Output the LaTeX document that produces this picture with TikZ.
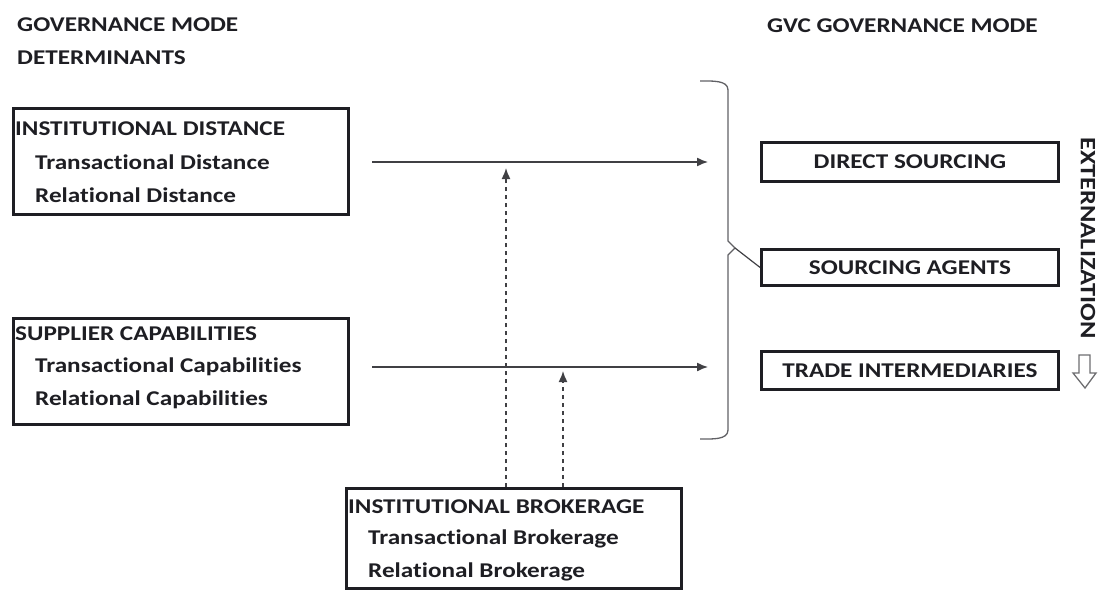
\documentclass[tikz,border=0pt]{standalone}
\usepackage{fontspec}
\setmainfont{Carlito}[FakeStretch=1.2,Ligatures={NoCommon}]
\usetikzlibrary{arrows.meta}
\definecolor{ink}{RGB}{30,30,35}
\begin{document}
\begin{tikzpicture}[x=1pt,y=-1pt,
  every node/.style={text=ink,font=\bfseries\fontsize{21}{25}\selectfont},
  txt/.style={inner sep=0pt,anchor=west},
  detbox/.style={draw=ink,line width=2.8pt,anchor=north west,inner sep=0pt},
  modebox/.style={draw=ink,line width=2.8pt,anchor=north west,inner sep=0pt,minimum width=297pt},
  flow/.style={draw=ink!85,line width=1.4pt,-{Latex[length=11pt,width=9pt]}},
  moderate/.style={draw=ink!85,line width=1.5pt,dash pattern=on 4pt off 4pt,-{Latex[length=11pt,width=9pt]}}]
\useasboundingbox (0,0) rectangle (1099,589);

% column headings
\node[txt] (h1) at (17,25) {GOVERNANCE MODE};
\node[txt] (h2) at (17,58) {DETERMINANTS};
\node[txt] (h3) at (767,26) {GVC GOVERNANCE MODE};

% determinant boxes
\node[detbox,minimum width=335pt,minimum height=106pt] (dist) at (12,107) {};
\node[txt] (distT) at (15,129) {INSTITUTIONAL DISTANCE};
\node[txt] (dist1) at (35,162) {Transactional Distance};
\node[txt] (dist2) at (35,195) {Relational Distance};

\node[detbox,minimum width=335pt,minimum height=106pt] (cap) at (12,317) {};
\node[txt] (capT) at (15,334) {SUPPLIER CAPABILITIES};
\node[txt] (cap1) at (35,367) {Transactional Capabilities};
\node[txt] (cap2) at (35,400) {Relational Capabilities};

\node[detbox,minimum width=335pt,minimum height=100pt] (brok) at (345,487) {};
\node[txt] (brokT) at (348,507) {INSTITUTIONAL BROKERAGE};
\node[txt] (brok1) at (368,539) {Transactional Brokerage};
\node[txt] (brok2) at (368,572) {Relational Brokerage};

% governance mode boxes
\node[modebox,minimum height=39pt] (ds) at (760,141) {};
\node (dsT) at (ds.center) {DIRECT SOURCING};
\node[modebox,minimum height=36pt] (sa) at (760,248) {};
\node (saT) at (sa.center) {SOURCING AGENTS};
\node[modebox,minimum height=38pt] (ti) at (760,350) {};
\node (tiT) at (ti.center) {TRADE INTERMEDIARIES};

% main effects
\coordinate (f1s) at (372,162);
\coordinate (f1e) at (708,162);
\coordinate (f2s) at (372,367);
\coordinate (f2e) at (708,367);
\draw[flow] (f1s) -- (f1e);
\draw[flow] (f2s) -- (f2e);

% moderating effects of brokerage
\coordinate (m1e) at (506,168);
\coordinate (m2e) at (563,371);
\draw[moderate] (brok.north -| m1e) -- (m1e);
\draw[moderate] (brok.north -| m2e) -- (m2e);

% brace gathering the modes
\coordinate (tip) at (735,248);
\draw[ink!70,line width=1.3pt]
  (700,81) .. controls (712,81) and (728,80) .. (728,90)
  -- (728,241) -- (tip) -- (728,255)
  -- (728,430) .. controls (728,440) and (712,439) .. (700,439);
\draw[ink!85,line width=1.2pt] (tip) -- (sa.west);

% externalization direction
\node[rotate=-90,inner sep=0pt,font=\bfseries\fontsize{22}{26}\selectfont] (ext) at (1088,238) {EXTERNALIZATION};
\draw[ink!65,line width=1.3pt,line join=miter]
  (1079,355) -- (1090,355) -- (1090,373) -- (1096,373) -- (1085,388)
  -- (1073,373) -- (1079,373) -- cycle;
\end{tikzpicture}
\end{document}
